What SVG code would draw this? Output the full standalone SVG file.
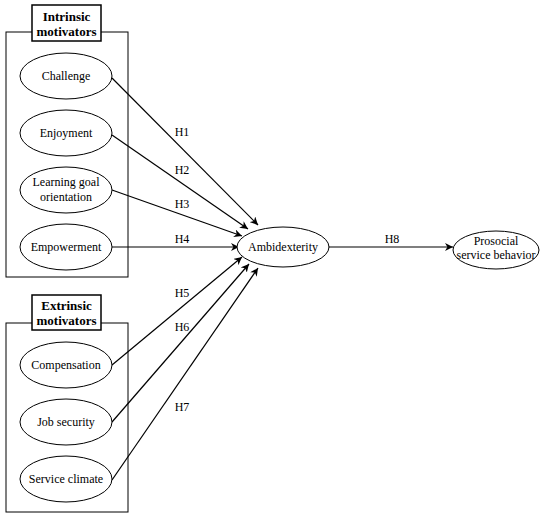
<svg xmlns="http://www.w3.org/2000/svg" width="550" height="517" viewBox="0 0 550 517">
<defs>
<marker id="ah" viewBox="0 0 10 10" refX="10" refY="5" markerWidth="8" markerHeight="8" markerUnits="userSpaceOnUse" orient="auto">
<path d="M0,0 L10,5 L0,10 L3,5 Z" fill="#000"/>
</marker>
<style>
.frame{fill:none;stroke:#000;stroke-width:1}
.lbl{fill:#fff;stroke:#000;stroke-width:1.5}
.node{fill:#fff;stroke:#000;stroke-width:1}
.t{font-family:"Liberation Serif","Times New Roman",serif;font-size:12px;fill:#000;text-anchor:middle}
.b{font-family:"Liberation Serif","Times New Roman",serif;font-size:13px;font-weight:bold;fill:#000;text-anchor:middle}
.edge{fill:none;stroke:#000;stroke-width:1.2;marker-end:url(#ah)}
</style>
</defs>
<rect width="550" height="517" fill="#fff"/>
<g id="intrinsic-group">
<rect class="frame" x="6" y="32" width="122" height="245"/>
<rect class="lbl" x="32" y="5" width="69" height="36"/>
<text class="b" x="66.5" y="21">Intrinsic</text>
<text class="b" x="66.5" y="36">motivators</text>
</g>
<g id="extrinsic-group">
<rect class="frame" x="6" y="323" width="122" height="189"/>
<rect class="lbl" x="32" y="295" width="69" height="35"/>
<text class="b" x="66.5" y="310">Extrinsic</text>
<text class="b" x="66.5" y="325">motivators</text>
</g>
<g id="connectors">
<line class="edge" x1="112" y1="78" x2="258" y2="225"/>
<line class="edge" x1="112" y1="135" x2="248" y2="229"/>
<line class="edge" x1="112" y1="190" x2="242" y2="236"/>
<line class="edge" x1="112" y1="247" x2="239" y2="247"/>
<line class="edge" x1="112" y1="365" x2="242" y2="257"/>
<line class="edge" x1="112" y1="422" x2="249" y2="264"/>
<line class="edge" x1="112" y1="480" x2="258" y2="268"/>
<line class="edge" x1="328" y1="247" x2="453" y2="247"/>
<text class="t" x="182" y="136">H1</text>
<text class="t" x="182" y="174">H2</text>
<text class="t" x="182" y="208">H3</text>
<text class="t" x="182" y="243">H4</text>
<text class="t" x="182" y="297">H5</text>
<text class="t" x="182" y="331">H6</text>
<text class="t" x="182" y="411">H7</text>
<text class="t" x="392" y="243">H8</text>
</g>
<g id="challenge">
<ellipse class="node" cx="66" cy="76" rx="46" ry="23"/>
<text class="t" x="66" y="80">Challenge</text>
</g>
<g id="enjoyment">
<ellipse class="node" cx="66" cy="133" rx="46" ry="23"/>
<text class="t" x="66" y="137">Enjoyment</text>
</g>
<g id="learning-goal-orientation">
<ellipse class="node" cx="66" cy="190" rx="46" ry="23"/>
<text class="t" x="66" y="186">Learning goal</text>
<text class="t" x="66" y="201">orientation</text>
</g>
<g id="empowerment">
<ellipse class="node" cx="66" cy="247" rx="46" ry="23"/>
<text class="t" x="66" y="251">Empowerment</text>
</g>
<g id="compensation">
<ellipse class="node" cx="66" cy="365" rx="46" ry="23"/>
<text class="t" x="66" y="369">Compensation</text>
</g>
<g id="job-security">
<ellipse class="node" cx="66" cy="422" rx="46" ry="23"/>
<text class="t" x="66" y="426">Job security</text>
</g>
<g id="service-climate">
<ellipse class="node" cx="66" cy="479" rx="46" ry="23"/>
<text class="t" x="66" y="483">Service climate</text>
</g>
<g id="ambidexterity">
<ellipse class="node" cx="283" cy="247" rx="46" ry="20"/>
<text class="t" x="283" y="251">Ambidexterity</text>
</g>
<g id="prosocial-service-behavior">
<ellipse class="node" cx="496" cy="250" rx="43" ry="19"/>
<text class="t" x="496" y="245">Prosocial</text>
<text class="t" x="496" y="259">service behavior</text>
</g>
</svg>
